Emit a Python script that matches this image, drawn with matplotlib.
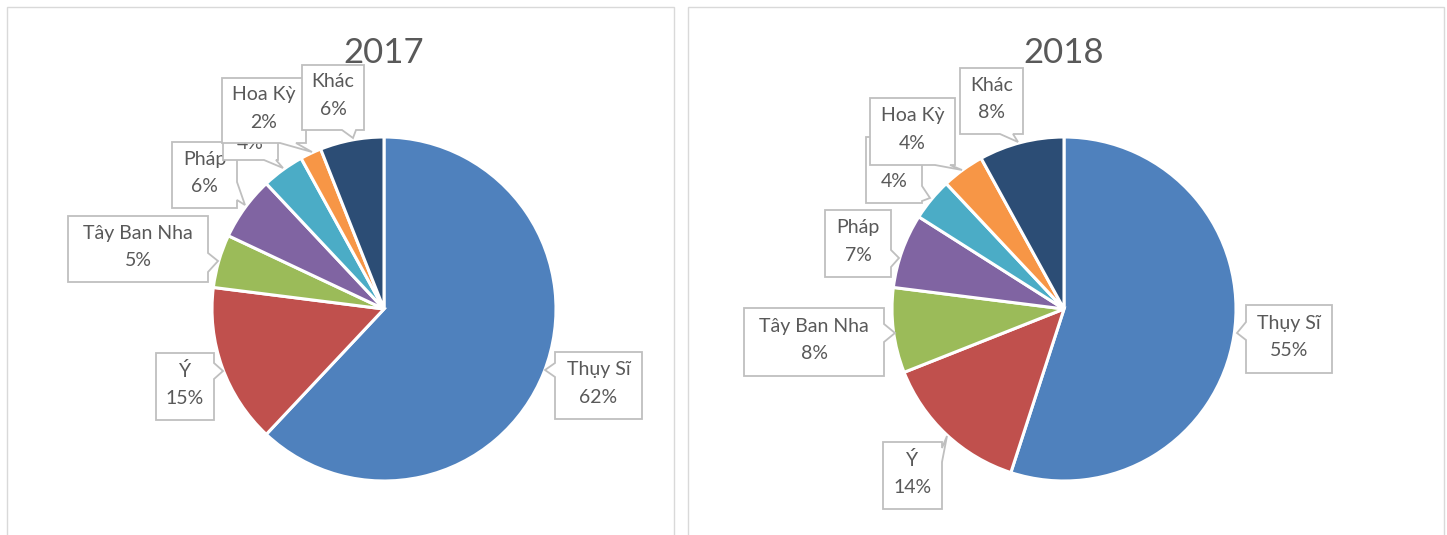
import matplotlib
matplotlib.use('Agg')
import matplotlib.pyplot as plt
from matplotlib.patches import Polygon, Rectangle

W, H = 1447, 535

years = ["2017", "2018"]
countries = ["Thụy Sĩ", "Ý", "Tây Ban Nha", "Pháp", "", "Hoa Kỳ", "Khác"]
share_2017 = [62, 15, 5, 6, 4, 2, 6]
share_2018 = [55, 14, 8, 7, 4, 4, 8]
colors = ["#4F81BD", "#C0504D", "#9BBB59", "#8064A2", "#4BACC6", "#F79646", "#2C4D75"]

# pie placement (image pixels, y down)
pie_centers = [(384, 309), (1064, 309)]
pie_radius = 172
panels = [(7, 7, 674), (688, 7, 1444)]

# callouts: box (x0, y0, x1, y1), tail side, tail base span, tail tip
callouts_2017 = [
    ((555, 352, 642, 419), "left", (363, 377), (545, 370)),
    ((156, 353, 214, 420), "right", (363, 379), (223, 371)),
    ((68, 216, 208, 282), "right", (253, 272), (218, 261)),
    ((172, 142, 237, 208), "right", (182, 200), (245, 205)),
    ((223, 104, 278, 160), "bottom", (264, 276), (283, 168)),
    ((222, 78, 306, 143), "bottom", (280, 296), (312, 152)),
    ((302, 65, 364, 130), "bottom", (342, 356), (353, 138)),
]
callouts_2018 = [
    ((1246, 305, 1332, 373), "left", (322, 340), (1237, 333)),
    ((883, 442, 942, 509), "right", (448, 462), (947, 436)),
    ((744, 308, 884, 376), "right", (324, 342), (895, 333)),
    ((825, 210, 891, 277), "right", (250, 267), (899, 258)),
    ((866, 137, 922, 203), "right", (186, 201), (930, 198)),
    ((870, 98, 955, 165), "bottom", (935, 950), (962, 170)),
    ((960, 68, 1023, 134), "bottom", (1000, 1013), (1018, 142)),
]

font = ["Lato", "Open Sans", "DejaVu Sans"]
txt_color = "#595959"


def fy(y):
    return H - y


def callout_poly(box, side, base, tip):
    x0, y0, x1, y1 = box
    a, b = base
    if side == "left":
        pts = [(x0, y0), (x1, y0), (x1, y1), (x0, y1), (x0, b), tip, (x0, a)]
    elif side == "right":
        pts = [(x0, y0), (x1, y0), (x1, a), tip, (x1, b), (x1, y1), (x0, y1)]
    elif side == "bottom":
        pts = [(x0, y0), (x1, y0), (x1, y1), (b, y1), tip, (a, y1), (x0, y1)]
    else:
        pts = [(x0, y0), (a, y0), tip, (b, y0), (x1, y0), (x1, y1), (x0, y1)]
    return [(x, fy(y)) for x, y in pts]


fig = plt.figure(figsize=(W / 100, H / 100), dpi=100)
ax = fig.add_axes([0, 0, 1, 1])

for (px0, py0, px1) in panels:
    ax.add_patch(Rectangle((px0, fy(H + 5)), px1 - px0, H + 5 - py0,
                           facecolor="white", edgecolor="#D9D9D9", lw=1, zorder=0))

data = [share_2017, share_2018]
calls = [callouts_2017, callouts_2018]
for i, year in enumerate(years):
    cx, cy = pie_centers[i]
    ax.pie(data[i], colors=colors, startangle=90, counterclock=False,
           center=(cx, fy(cy)), radius=pie_radius,
           wedgeprops=dict(edgecolor="white", linewidth=2.2))
    ax.text(cx, fy(63), year, ha="center", va="baseline", fontsize=25,
            color=txt_color, family=font)
    for k, (box, side, base, tip) in enumerate(calls[i]):
        z = 5 + k * 2
        ax.add_patch(Polygon(callout_poly(box, side, base, tip), closed=True,
                             facecolor="white", edgecolor="#BFBFBF", lw=1.3, zorder=z))
        x0, y0, x1, y1 = box
        ax.text((x0 + x1) / 2, fy((y0 + y1) / 2 - 2),
                f"{countries[k]}\n{data[i][k]}%", ha="center", va="center",
                fontsize=14, color=txt_color, family=font, linespacing=1.72,
                zorder=z + 1)

ax.set_xlim(0, W)
ax.set_ylim(0, H)
ax.set_aspect("auto")
ax.axis("off")

fig.savefig("out.png", dpi=100)
